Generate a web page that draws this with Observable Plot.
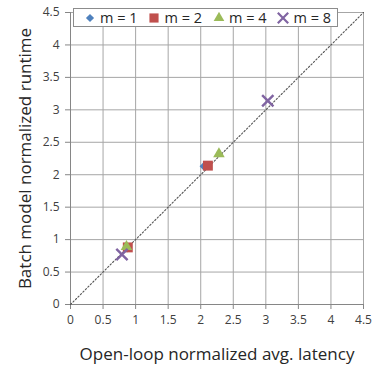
<!DOCTYPE html>
<html>
<head>
<meta charset="utf-8">
<script src="https://cdn.jsdelivr.net/npm/d3@7"></script>
<script src="https://cdn.jsdelivr.net/npm/@observablehq/plot@0.6"></script>
<style>
  html, body { margin: 0; padding: 0; background: #fff; }
  #wrap { position: relative; width: 373px; height: 369px; }
  #legend {
    position: absolute; left: 73px; top: 8px; height: 19px;
    border: 1px solid #8c8c8c; background: #fff;
    display: flex; align-items: center; padding: 0 6px 0 10px;
    font-family: "Open Sans", "Liberation Sans", sans-serif; font-size: 14.5px; color: #262626;
    box-sizing: border-box; width: 265px; justify-content: space-between;
  }
  #legend .item { display: flex; align-items: center; gap: 4px; white-space: nowrap; }
  #legend svg { display: block; }
</style>
</head>
<body>
<div id="wrap">
  <div id="chart"></div>
  <div id="legend"></div>
</div>
<script>
// Series: open-loop normalized avg. latency (x) vs batch model normalized runtime (y)
const seriesNames = ["m = 1", "m = 2", "m = 4", "m = 8"];
const m1x = [0.87, 2.05];
const m1y = [0.87, 2.13];
const m2x = [0.88, 2.11];
const m2y = [0.88, 2.14];
const m4x = [0.86, 2.28];
const m4y = [0.89, 2.32];
const m8x = [0.79, 3.03];
const m8y = [0.77, 3.14];
const tickValues = [0, 0.5, 1, 1.5, 2, 2.5, 3, 3.5, 4, 4.5];
const tickLabels = ["0", "0.5", "1", "1.5", "2", "2.5", "3", "3.5", "4", "4.5"];
const diagonal = [0, 4.5];

const styles = [
  {symbol: "diamond2", fill: "#4F81BD", stroke: "none", r: 4},
  {symbol: "square", fill: "#C0504D", stroke: "none", r: 5.6},
  {symbol: "triangle", fill: "#9BBB59", stroke: "none", r: 4.3},
  {symbol: "times", fill: "none", stroke: "#8064A2", r: 5.2}
];
const xs = [m1x, m2x, m4x, m8x];
const ys = [m1y, m2y, m4y, m8y];
const rows = seriesNames.map((name, i) => xs[i].map((x, j) => ({series: name, x, y: ys[i][j]})));

const font = '"Open Sans", "Liberation Sans", sans-serif';
const fmt = d => tickLabels[tickValues.indexOf(d)];

const chart = Plot.plot({
  width: 373,
  height: 369,
  marginLeft: 70,
  marginRight: 10,
  marginTop: 12,
  marginBottom: 65,
  style: {fontFamily: font, fontSize: "12px", color: "#404040", background: "#fff"},
  x: {domain: [0, 4.5]},
  y: {domain: [0, 4.5]},
  marks: [
    Plot.gridX(tickValues, {stroke: "#a6a6a6", strokeOpacity: 1, strokeWidth: 1}),
    Plot.gridY(tickValues, {stroke: "#a6a6a6", strokeOpacity: 1, strokeWidth: 1}),
    Plot.axisX({ticks: tickValues, tickFormat: fmt, tickSize: 5, tickPadding: 6, stroke: "#868686",
      label: "Open-loop normalized avg. latency", labelAnchor: "center", labelArrow: "none",
      labelOffset: 55, fontSize: 12}),
    Plot.axisY({ticks: tickValues, tickFormat: fmt, tickSize: 5, tickPadding: 6, stroke: "#868686",
      label: "Batch model normalized runtime", labelAnchor: "center", labelArrow: "none",
      labelOffset: 52, fontSize: 12}),
    Plot.ruleX([0], {stroke: "#868686"}),
    Plot.ruleY([0], {stroke: "#868686"}),
    Plot.line(diagonal.map(v => ({x: v, y: v})), {x: "x", y: "y", stroke: "#555", strokeWidth: 1.1, strokeDasharray: "1.5,2"}),
    ...rows.map((data, i) => Plot.dot(data, {
      x: "x", y: "y", symbol: () => styles[i].symbol, r: styles[i].r,
      fill: styles[i].fill, stroke: styles[i].stroke, strokeWidth: 2.4
    }))
  ]
});

// Enlarge the axis titles
d3.select(chart).selectAll("g[aria-label='x-axis label'] text, g[aria-label='y-axis label'] text")
  .style("font-size", "17px").attr("fill", "#262626");

document.getElementById("chart").appendChild(chart);

// Legend
const legend = d3.select("#legend");
seriesNames.forEach((name, i) => {
  const item = legend.append("div").attr("class", "item");
  const s = item.append("svg").attr("width", 12).attr("height", 12);
  const sym = {diamond2: d3.symbolDiamond2, square: d3.symbolSquare, triangle: d3.symbolTriangle, times: d3.symbolTimes}[styles[i].symbol];
  s.append("path")
    .attr("transform", "translate(6,6)")
    .attr("d", d3.symbol(sym, styles[i].r * styles[i].r * Math.PI * 0.85)())
    .attr("fill", styles[i].fill)
    .attr("stroke", styles[i].stroke)
    .attr("stroke-width", 2.2);
  item.append("span").text(name);
});
</script>
</body>
</html>
